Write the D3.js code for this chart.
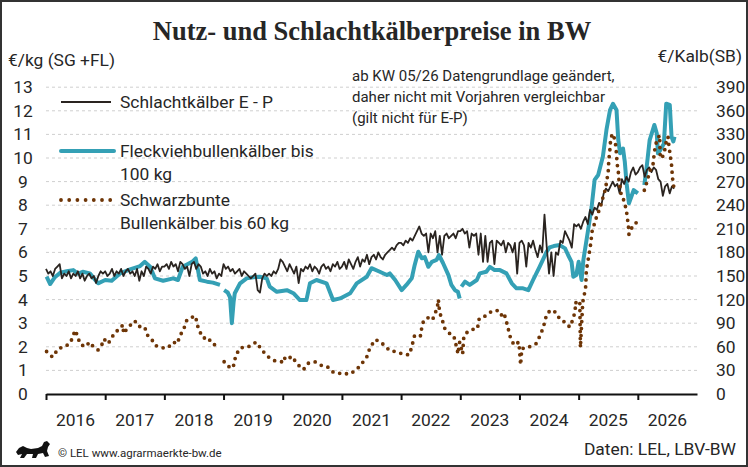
<!DOCTYPE html>
<html>
<head>
<meta charset="utf-8">
<script src="https://d3js.org/d3.v7.min.js"></script>
<style>
  body { margin: 0; background: #fff; }
  svg text { font-family: Roboto, "Noto Sans", sans-serif; fill: #262626; }
</style>
</head>
<body>
<div id="chart"></div>
<script>
// tick labels
const yearTicks = [2016, 2017, 2018, 2019, 2020, 2021, 2022, 2023, 2024, 2025, 2026];
const leftTicks = [0, 1, 2, 3, 4, 5, 6, 7, 8, 9, 10, 11, 12, 13];
const rightTicks = [0, 30, 60, 90, 120, 150, 180, 210, 240, 270, 300, 330, 360, 390];

// Schlachtkälber E - P, €/kg, two-week steps from start of 2016
const epStart = 2016;
const schlachtEP = [
  5.3,5.1,5.2,5.0,5.3,5.4,5.5,4.9,5.1,5.0,5.2,4.9,5.1,5.0,5.2,4.9,5.1,4.8,5.0,5.1,4.9,5.0,4.7,5.0,5.2,5.1,
  5.2,5.0,5.1,5.3,5.0,5.2,5.1,5.3,5.0,5.2,5.3,5.1,5.2,5.0,5.3,4.8,5.2,5.0,5.4,5.3,5.1,5.4,5.3,5.5,5.2,5.4,
  5.4,5.5,5.3,5.6,5.4,5.5,5.2,5.6,5.5,5.3,5.4,5.0,5.5,5.6,5.3,5.5,5.4,5.1,5.2,5.0,5.3,5.1,5.2,4.9,5.1,5.0,
  5.5,5.3,5.4,5.2,5.3,5.1,5.2,5.3,5.0,5.2,5.1,5.0,4.9,5.0,5.1,4.4,4.3,4.9,5.1,5.0,5.1,5.0,5.2,5.1,5.3,5.7,
  5.6,5.4,5.2,5.5,5.3,5.1,5.4,4.7,5.3,5.2,5.4,5.3,5.5,5.2,5.4,5.3,5.1,5.4,5.5,5.3,5.4,5.2,5.5,5.4,5.6,5.3,
  5.4,5.6,5.3,5.7,5.5,5.3,5.6,5.8,5.4,5.7,5.6,5.9,5.5,5.8,5.9,5.7,6.0,5.8,5.7,5.9,6.0,6.1,6.2,6.1,6.3,6.4,
  6.4,6.3,6.5,6.4,6.6,6.5,6.7,6.9,7.1,6.8,6.7,6.8,6.0,6.8,6.6,6.9,6.0,6.7,5.9,6.7,6.8,6.6,6.7,6.8,6.6,6.9,
  6.9,7.0,6.8,6.9,6.2,6.8,6.7,6.8,5.9,6.8,5.6,6.7,5.6,6.4,6.5,5.5,6.5,6.4,6.3,6.5,6.0,6.4,6.3,6.0,6.4,5.1,
  6.4,6.5,6.3,5.4,6.4,6.2,6.5,6.1,5.8,6.3,6.0,7.6,6.2,5.1,6.0,5.0,6.0,5.9,6.5,6.4,6.9,6.7,6.5,6.2,7.2,7.1,
  7.2,7.0,7.3,7.5,7.2,7.8,7.6,7.9,7.8,8.1,8.0,8.5,8.7,8.6,8.8,9.0,8.8,8.9,8.5,9.1,8.9,9.2,9.0,9.4,9.6,9.3,
  9.4,9.6,9.7,9.2,9.5,9.6,9.4,9.6,9.5,9.1,9.0,8.4,8.8,8.9,8.5,8.8,8.7
];

// Fleckviehbullenkälber bis 100 kg, €/kg  [date as decimal year, price]
const fleckvieh = [
  [2016.01,4.97],[2016.07,4.66],[2016.15,4.95],[2016.24,5.14],[2016.35,5.2],[2016.46,5.25],[2016.54,5.1],
  [2016.62,5.18],[2016.74,5.11],[2016.81,4.9],[2016.88,4.69],[2017.0,4.83],[2017.11,4.8],[2017.25,5.11],
  [2017.42,5.28],[2017.59,5.42],[2017.67,5.6],[2017.76,5.39],[2017.84,4.9],[2017.98,4.8],[2018.15,4.9],
  [2018.23,4.83],[2018.31,5.39],[2018.47,5.6],[2018.53,5.75],[2018.6,4.83],[2018.72,4.76],[2018.82,4.72],
  [2018.94,4.62],[2018.97,null],
  [2019.01,4.4],[2019.07,4.3],[2019.11,4.1],[2019.14,3.0],[2019.17,3.9],[2019.19,4.27],[2019.28,4.69],
  [2019.39,4.9],[2019.5,4.95],[2019.61,4.97],[2019.73,4.9],[2019.78,4.55],[2019.9,4.33],[2020.07,4.4],
  [2020.18,4.27],[2020.29,3.98],[2020.4,3.98],[2020.46,4.69],[2020.57,4.83],[2020.74,4.69],[2020.85,3.98],
  [2020.97,4.05],[2021.14,4.27],[2021.25,4.69],[2021.42,4.97],[2021.5,5.33],[2021.64,5.18],[2021.76,5.04],
  [2021.81,5.11],[2021.9,4.83],[2022.01,4.4],[2022.09,4.62],[2022.18,4.9],[2022.23,5.47],[2022.29,6.03],
  [2022.35,5.75],[2022.4,5.8],[2022.46,5.39],[2022.52,5.6],[2022.6,5.68],[2022.64,5.89],[2022.71,5.54],
  [2022.8,5.04],[2022.85,4.62],[2022.91,4.4],[2022.96,4.33],[2022.99,4.05],[2023.0,null],
  [2023.02,4.55],[2023.08,4.76],[2023.16,4.62],[2023.28,4.83],[2023.33,5.11],[2023.44,5.18],[2023.5,5.39],
  [2023.58,5.25],[2023.67,5.25],[2023.78,5.11],[2023.87,4.69],[2023.95,4.48],[2024.06,4.48],[2024.15,4.4],
  [2024.23,4.83],[2024.34,5.39],[2024.46,6.03],[2024.51,6.21],[2024.58,6.27],[2024.68,6.31],[2024.77,6.17],
  [2024.82,5.9],[2024.88,5.6],[2024.91,4.97],[2024.96,5.04],[2025.0,5.6],[2025.05,4.83],[2025.08,5.68],
  [2025.16,6.95],[2025.22,7.94],[2025.27,9.07],[2025.33,9.28],[2025.41,10.06],[2025.47,11.19],[2025.53,12.03],
  [2025.58,12.3],[2025.64,12.03],[2025.67,10.76],[2025.7,10.2],[2025.75,10.4],[2025.78,9.84],[2025.81,8.93],
  [2025.85,8.08],[2025.89,8.36],[2025.93,8.64],[2026.0,8.5],[2026.05,null],
  [2026.11,8.86],[2026.15,9.63],[2026.2,10.76],[2026.28,11.4],[2026.32,11.05],[2026.34,10.2],[2026.38,10.34],
  [2026.44,10.6],[2026.48,12.3],[2026.54,12.25],[2026.57,10.9],[2026.6,10.7],[2026.62,10.9]
];

// Schwarzbunte Bullenkälber bis 60 kg, €/Kalb  [date as decimal year, price]
const schwarzbunte = [
  [2016.01,54],[2016.11,47],[2016.21,58],[2016.32,60],[2016.41,65],[2016.46,74],[2016.49,81],[2016.54,73],
  [2016.57,64],[2016.66,60],[2016.74,66],[2016.8,60],[2016.88,56],[2016.94,62],[2016.98,70],[2017.05,64],
  [2017.13,74],[2017.17,79],[2017.24,82],[2017.3,88],[2017.31,77],[2017.39,85],[2017.5,93],[2017.56,86],
  [2017.67,85],[2017.7,76],[2017.79,69],[2017.84,62],[2017.95,59],[2018.03,58],[2018.09,61],[2018.15,66],
  [2018.22,64],[2018.26,74],[2018.32,81],[2018.38,94],[2018.48,98],[2018.53,99],[2018.55,89],[2018.6,79],
  [2018.66,71],[2018.74,72],[2018.8,64],[2018.91,61],[2018.94,64],[2018.97,null],
  [2019.01,41],[2019.08,35],[2019.16,33],[2019.21,50],[2019.29,59],[2019.39,59],[2019.47,62],[2019.55,66],
  [2019.59,62],[2019.67,54],[2019.76,47],[2019.87,42],[2019.98,41],[2020.01,47],[2020.07,43],[2020.15,48],
  [2020.18,45],[2020.26,37],[2020.35,31],[2020.43,39],[2020.54,41],[2020.6,39],[2020.68,35],[2020.77,34],
  [2020.85,28],[2020.94,26],[2021.02,27],[2021.11,25],[2021.19,28],[2021.3,35],[2021.36,41],[2021.42,47],
  [2021.47,58],[2021.56,69],[2021.64,67],[2021.73,61],[2021.81,55],[2021.9,54],[2021.98,52],[2022.06,50],
  [2022.14,50],[2022.18,60],[2022.23,75],[2022.33,74],[2022.35,85],[2022.38,93],[2022.45,97],[2022.53,94],
  [2022.57,102],[2022.61,109],[2022.63,120],[2022.64,111],[2022.66,102],[2022.7,93],[2022.74,83],[2022.82,77],
  [2022.89,74],[2022.92,65],[2022.95,56],[2022.96,51],[2022.99,66],[2023.04,51],[2023.06,73],[2023.11,78],
  [2023.19,82],[2023.29,83],[2023.32,96],[2023.4,98],[2023.47,102],[2023.55,106],[2023.66,106],[2023.72,97],
  [2023.75,100],[2023.78,92],[2023.82,80],[2023.85,71],[2023.91,62],[2023.99,66],[2024.02,37],[2024.04,58],
  [2024.12,58],[2024.22,62],[2024.28,64],[2024.34,73],[2024.39,82],[2024.43,92],[2024.46,102],[2024.54,107],
  [2024.63,103],[2024.68,95],[2024.78,91],[2024.85,85],[2024.9,94],[2024.94,105],[2024.95,117],[2024.98,112],
  [2025.02,115],[2025.03,59],[2025.07,117],[2025.1,128],[2025.12,137],[2025.13,157],[2025.18,179],[2025.2,189],
  [2025.23,208],[2025.27,217],[2025.31,227],[2025.36,236],[2025.4,247],[2025.44,257],[2025.47,268],[2025.5,283],
  [2025.51,297],[2025.53,312],[2025.54,323],[2025.57,331],[2025.61,324],[2025.63,314],[2025.64,304],[2025.65,293],
  [2025.67,283],[2025.68,273],[2025.7,263],[2025.72,253],[2025.75,249],[2025.78,242],[2025.81,232],[2025.82,225],
  [2025.84,215],[2025.85,203],[2025.88,208],[2025.92,215],[2025.98,218],[2026.05,null],
  [2026.11,259],[2026.14,266],[2026.17,274],[2026.2,283],[2026.26,293],[2026.28,308],[2026.31,319],[2026.34,325],
  [2026.37,329],[2026.375,308],[2026.38,300],[2026.41,300],[2026.45,308],[2026.47,317],[2026.49,324],[2026.51,327],
  [2026.52,319],[2026.55,302],[2026.57,291],[2026.58,281],[2026.59,272],[2026.61,262]
];

const legendItems = [
  { lines: ["Schlachtkälber E - P"], kind: "ep" },
  { lines: ["Fleckviehbullenkälber bis", "100 kg"], kind: "fv" },
  { lines: ["Schwarzbunte", "Bullenkälber bis 60 kg"], kind: "sb" }
];
const noteLines = ["ab KW 05/26 Datengrundlage geändert,", "daher nicht mit Vorjahren vergleichbar", "(gilt nicht für E-P)"];

const width = 748, height = 467;
const colorEP = "#2a2420", colorFV = "#34a0b5", colorSB = "#6e3506";
const fs = "17.4px";

const svg = d3.select("#chart").append("svg")
    .attr("width", width)
    .attr("height", height);

svg.append("rect")
    .attr("x", 1).attr("y", 1)
    .attr("width", width - 2).attr("height", height - 2)
    .attr("fill", "#fff")
    .attr("stroke", "#333")
    .attr("stroke-width", 2);

const x = d3.scaleLinear([2016, 2027], [46, 697]);
const yL = d3.scaleLinear([0, 13], [394, 87.2]);
const yR = d3.scaleLinear([0, 390], [394, 87.2]);

// title
svg.append("text")
    .attr("x", 372).attr("y", 40)
    .attr("text-anchor", "middle")
    .style("font-family", "'Liberation Serif', 'DejaVu Serif', serif")
    .style("font-weight", "bold")
    .style("font-size", "26.5px")
    .text("Nutz- und Schlachtkälberpreise in BW");

svg.append("text")
    .attr("x", 8).attr("y", 66)
    .style("font-size", fs)
    .text("€/kg (SG +FL)");

svg.append("text")
    .attr("x", 742).attr("y", 62)
    .attr("text-anchor", "end")
    .style("font-size", fs)
    .text("€/Kalb(SB)");

// grid
svg.append("g").selectAll("line")
    .data(leftTicks.filter(d => d > 0))
    .join("line")
    .attr("x1", x(2016)).attr("x2", x(2027))
    .attr("y1", d => yL(d)).attr("y2", d => yL(d))
    .attr("stroke", "#cfcfcf")
    .attr("stroke-dasharray", "3 3")
    .attr("stroke-width", 1);

svg.append("g").selectAll("text")
    .data(leftTicks)
    .join("text")
    .attr("x", 23).attr("y", d => yL(d))
    .attr("dy", "0.35em")
    .attr("text-anchor", "middle")
    .style("font-size", fs)
    .text(d => d);

svg.append("g").selectAll("text")
    .data(rightTicks)
    .join("text")
    .attr("x", 716).attr("y", d => yR(d))
    .attr("dy", "0.35em")
    .style("font-size", fs)
    .text(d => d);

// x axis
const xAxis = svg.append("g")
    .attr("transform", `translate(0,${yL(0)})`)
    .call(d3.axisBottom(x).tickValues(yearTicks).tickFormat("").tickSize(6).tickSizeOuter(0));
xAxis.select(".domain").attr("stroke", "#111").attr("stroke-width", 2);
xAxis.selectAll(".tick line").attr("stroke", "#111").attr("stroke-width", 2);

svg.append("g").selectAll("text")
    .data(yearTicks)
    .join("text")
    .attr("x", d => x(d + 0.5)).attr("y", 426)
    .attr("text-anchor", "middle")
    .style("font-size", fs)
    .text(d => d);

// series
const lineFV = d3.line()
    .defined(d => d[1] != null)
    .x(d => x(d[0]))
    .y(d => yL(d[1]));

const lineSB = d3.line()
    .defined(d => d[1] != null)
    .x(d => x(d[0]))
    .y(d => yR(d[1]));

const lineEP = d3.line()
    .x((d, i) => x(epStart + i / 26))
    .y(d => yL(d));

svg.append("path")
    .datum(fleckvieh)
    .attr("fill", "none")
    .attr("stroke", colorFV)
    .attr("stroke-width", 4)
    .attr("stroke-linejoin", "round")
    .attr("d", lineFV);

svg.append("path")
    .datum(schlachtEP)
    .attr("fill", "none")
    .attr("stroke", colorEP)
    .attr("stroke-width", 1.8)
    .attr("stroke-linejoin", "round")
    .attr("d", lineEP);

svg.append("path")
    .datum(schwarzbunte)
    .attr("fill", "none")
    .attr("stroke", colorSB)
    .attr("stroke-width", 3.8)
    .attr("stroke-linecap", "round")
    .attr("stroke-dasharray", "0 7")
    .attr("d", lineSB);

// legend
const legendY = [102, 151, 200];
const legend = svg.append("g");
legendItems.forEach((item, i) => {
    const ly = legendY[i];
    const l = legend.append("line")
        .attr("x1", 61).attr("x2", item.kind === "fv" ? 114 : 111)
        .attr("y1", ly).attr("y2", ly);
    if (item.kind === "ep") l.attr("stroke", colorEP).attr("stroke-width", 1.8);
    if (item.kind === "fv") l.attr("stroke", colorFV).attr("stroke-width", 4).attr("stroke-linecap", "round");
    if (item.kind === "sb") l.attr("stroke", colorSB).attr("stroke-width", 3.8)
        .attr("stroke-linecap", "round").attr("stroke-dasharray", "0 8.2");
    item.lines.forEach((t, j) => {
        legend.append("text")
            .attr("x", 120).attr("y", ly + 6 + j * 23)
            .style("font-size", fs)
            .text(t);
    });
});

// note
svg.append("g").selectAll("text")
    .data(noteLines)
    .join("text")
    .attr("x", 352).attr("y", (d, i) => 81 + i * 21)
    .style("font-size", "15px")
    .text(d => d);

// footer
svg.append("path")
    .attr("d", "M16,452 L19,448 L23,446 L27,448 L31,449 L38,448 L42,446 L44,442 L47,441 L50,444 L48,447 L47,451 L49,456 L45,457 L43,453 L38,454 L36,458 L32,458 L33,454 L27,454 L24,458 L20,458 L22,454 L18,455 Z")
    .attr("fill", "#111");

svg.append("text")
    .attr("x", 58).attr("y", 457)
    .style("font-size", "11.5px")
    .text("© LEL www.agrarmaerkte-bw.de");

svg.append("text")
    .attr("x", 736).attr("y", 455)
    .attr("text-anchor", "end")
    .style("font-size", fs)
    .text("Daten: LEL, LBV-BW");
</script>
</body>
</html>
